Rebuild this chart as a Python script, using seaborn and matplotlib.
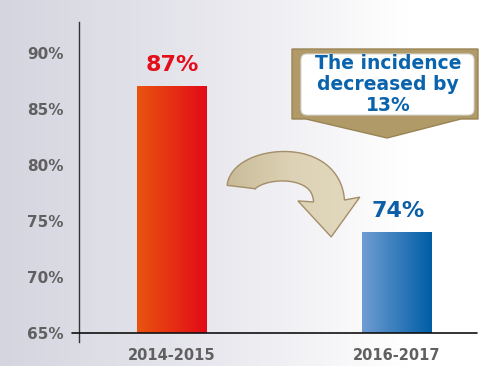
import numpy as np
import pandas as pd
import matplotlib
matplotlib.use("Agg")
import matplotlib.pyplot as plt
import seaborn as sns
from matplotlib.patches import FancyBboxPatch, Polygon
from matplotlib.colors import LinearSegmentedColormap
import matplotlib.transforms as mtransforms

# ---- data ----
periods = ["2014-2015", "2016-2017"]
incidence = [87, 74]
value_labels = ["87%", "74%"]
y_ticks = [65, 70, 75, 80, 85, 90]
y_tick_labels = ["65%", "70%", "75%", "80%", "85%", "90%"]
callout_text = "The incidence\ndecreased by\n13%"

bar_left_colors = ["#e9540f", "#6f9dd2"]
bar_right_colors = ["#e30a18", "#005da6"]
label_colors = ["#e40d1a", "#0b5fa7"]

sns.set_theme(style="white")
plt.rcParams["font.family"] = ["DejaVu Sans"]

W, H = 479, 366
fig = plt.figure(figsize=(W / 100, H / 100), dpi=100)

# background gradient
bg = fig.add_axes([0, 0, 1, 1], zorder=-2)
grad = np.linspace(0, 1, 256)[None, :]
bg_cmap = LinearSegmentedColormap.from_list(
    "bg", [(0.0, "#d4d5df"), (0.45, "#e8e8ee"), (0.85, "#ffffff"), (1.0, "#ffffff")])
bg.imshow(grad, aspect="auto", cmap=bg_cmap, extent=(0, 1, 0, 1))
bg.axis("off")

# main axes
left, right = 79 / W, 477 / W
bottom, top = (H - 342) / H, (H - 22) / H
ax = fig.add_axes([left, bottom, right - left, top - bottom])
ax.patch.set_alpha(0)

ymin, ymax = 64.2, 92.77
base = y_ticks[0]

df = pd.DataFrame({"period": periods, "incidence": incidence})
sns.barplot(data=df, x="period", y="incidence", hue="period",
            palette=bar_right_colors, width=0.306, legend=False, ax=ax,
            saturation=1)

for i, p in enumerate(ax.patches):
    x0, w = p.get_x(), p.get_width()
    y0, h = p.get_y(), p.get_height()
    p.set_visible(False)
    cm = LinearSegmentedColormap.from_list(f"b{i}", [bar_left_colors[i], bar_right_colors[i]])
    ax.imshow(grad, aspect="auto", cmap=cm,
              extent=(x0, x0 + w, max(y0, base), y0 + h),
              zorder=2)

ax.set_ylim(ymin, ymax)
ax.set_xlim(-0.41, 1.355)

for i, v in enumerate(incidence):
    ax.text(i + 0.006, v + 1.9, value_labels[i], ha="center", va="center",
            fontsize=16, fontweight="bold", color=label_colors[i])

ax.set_yticks(y_ticks)
ax.set_yticklabels(y_tick_labels)
ax.tick_params(axis="y", length=0, pad=11, labelsize=11, labelcolor="#606060")
ax.tick_params(axis="x", length=0, pad=4.5, labelsize=10.5, labelcolor="#606060")
for lab in ax.get_yticklabels() + ax.get_xticklabels():
    lab.set_fontweight("bold")
ax.set_xlabel("")
ax.set_ylabel("")
for s in ["top", "right", "bottom"]:
    ax.spines[s].set_visible(False)
ax.spines["left"].set_color("#333333")
ax.spines["left"].set_linewidth(1.0)

# baseline at 65%
trans = mtransforms.blended_transform_factory(ax.transAxes, ax.transData)
ax.plot([-7 / 398, 1.0], [base, base], transform=trans, color="#111111", lw=1.2,
        clip_on=False, zorder=5)

# overlay in pixel coordinates for annotations
ov = fig.add_axes([0, 0, 1, 1], zorder=5)
ov.set_xlim(0, W)
ov.set_ylim(H, 0)
ov.axis("off")

# callout
outer = Polygon([(292, 49), (478, 49), (478, 119), (461, 119), (387, 138),
                 (306, 119), (292, 119)], closed=True,
                facecolor="#b09a68", edgecolor="#9a8456", lw=1.0)
ov.add_patch(outer)
inner = FancyBboxPatch((301, 54), 173, 61, boxstyle="round,pad=0,rounding_size=6",
                       facecolor="white", edgecolor="#d8d8d8", lw=0.8)
ov.add_patch(inner)
ov.text(388, 84.5, callout_text, ha="center", va="center", fontsize=13.5,
        fontweight="bold", color="#0a63ad", linespacing=1.12)

# curved ribbon arrow built from a cubic centre line (pixel coords)
P = np.array([(241, 187), (244, 162), (326, 152), (329, 201)], dtype=float)
t = np.linspace(0, 1, 60)[:, None]
c = ((1 - t) ** 3) * P[0] + 3 * ((1 - t) ** 2) * t * P[1] + 3 * (1 - t) * t ** 2 * P[2] + t ** 3 * P[3]
d = 3 * ((1 - t) ** 2) * (P[1] - P[0]) + 6 * (1 - t) * t * (P[2] - P[1]) + 3 * t ** 2 * (P[3] - P[2])
d = d / np.linalg.norm(d, axis=1, keepdims=True)
n = np.column_stack([-d[:, 1], d[:, 0]])
half = (14 + 1.5 * t[:, 0])[:, None]
side1 = c + n * half
side2 = c - n * half
end, tang, nrm = c[-1], d[-1], n[-1]
head_base1 = end + nrm * 31 - tang * 2
head_base2 = end - nrm * 31 - tang * 2
tip = end + tang * 36
pts = np.vstack([side1, head_base1[None], tip[None], head_base2[None], side2[::-1]])
arrow = Polygon(pts, closed=True, facecolor="none", edgecolor="#a38e68", lw=1.0, zorder=7)
ov.add_patch(arrow)
arr_cm = LinearSegmentedColormap.from_list("arr", ["#c8ba98", "#ddd2b5", "#e2d9bf"])
im = ov.imshow(grad, aspect="auto", cmap=arr_cm, extent=(225, 360, 240, 150), zorder=6)
im.set_clip_path(arrow)

fig.savefig("out.png", dpi=100)
